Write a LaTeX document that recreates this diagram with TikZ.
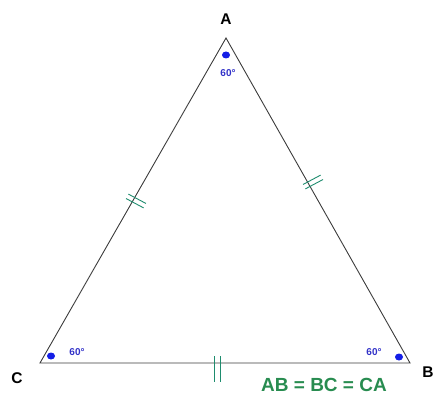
\documentclass[tikz,border=0pt]{standalone}
\usepackage{fontspec}
\usetikzlibrary{shapes.geometric}
\setmainfont{Liberation Sans}
\definecolor{tickgreen}{RGB}{30,140,110}
\definecolor{txtgreen}{RGB}{40,140,80}
\definecolor{dotblue}{RGB}{20,30,230}
\definecolor{lblblue}{RGB}{50,50,200}
\definecolor{edge}{RGB}{60,60,60}
\begin{document}
\begin{tikzpicture}[x=1pt,y=-1pt,
  side/.style={draw=edge,line width=0.9pt},
  tick/.style={draw=tickgreen,line width=0.9pt},
  vlabel/.style={font=\fontsize{15.5}{15.5}\selectfont\bfseries,text=black,inner sep=0pt},
  angtxt/.style={font=\fontsize{10}{10}\selectfont\bfseries,text=lblblue,inner sep=0pt},
  dot/.style={ellipse,fill=dotblue,inner sep=0pt,minimum width=8pt,minimum height=7pt}]
\useasboundingbox (0,0) rectangle (438,403);
\coordinate (A) at (226,38);
\coordinate (B) at (410,363);
\coordinate (C) at (40,363);
\draw[side] (A) -- (B) -- (C) -- cycle;
\node[vlabel] (lA) at (226,19) {A};
\node[vlabel] (lB) at (428,372) {B};
\node[vlabel] (lC) at (17,378) {C};
% angle dots and labels
\node[dot] (dA) at (226,55) {};
\node[angtxt] (tA) at (228,73) {60°};
\node[dot] (dC) at (51,356) {};
\node[angtxt] (tC) at (77,352) {60°};
\node[dot] (dB) at (399,357) {};
\node[angtxt] (tB) at (374,352) {60°};
% tick marks
\begin{scope}[shift={(136,201)},rotate=-28]
\draw[tick] (-10,-2.5) -- (10,-2.5);
\draw[tick] (-10,2.5) -- (10,2.5);
\end{scope}
\begin{scope}[shift={(313,182)},rotate=28]
\draw[tick] (-10,-2.5) -- (10,-2.5);
\draw[tick] (-10,2.5) -- (10,2.5);
\end{scope}
\draw[tick] (214,356) -- (214,382);
\draw[tick] (220,356) -- (220,382);
\node[font=\fontsize{19}{19}\selectfont\bfseries,text=txtgreen,inner sep=0pt] (eq) at (324,385) {AB = BC = CA};
\end{tikzpicture}
\end{document}
